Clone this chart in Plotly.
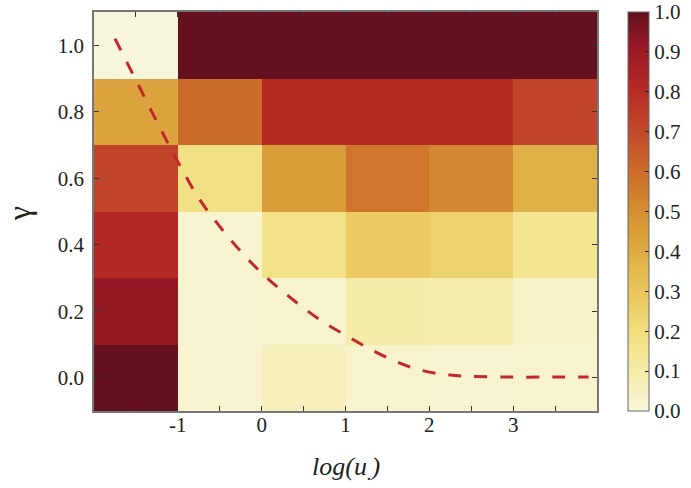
import plotly.graph_objects as go

# Heatmap grid (cell centres)
log_u = [-1.5, -0.5, 0.5, 1.5, 2.5, 3.5]
gamma = [0.0, 0.2, 0.4, 0.6, 0.8, 1.0]

# z values, one row per gamma (bottom to top)
row_g00 = [1.00, 0.02, 0.06, 0.03, 0.02, 0.03]
row_g02 = [0.92, 0.02, 0.03, 0.10, 0.09, 0.04]
row_g04 = [0.82, 0.02, 0.17, 0.28, 0.25, 0.15]
row_g06 = [0.72, 0.18, 0.45, 0.57, 0.52, 0.38]
row_g08 = [0.43, 0.60, 0.80, 0.80, 0.80, 0.72]
row_g10 = [0.00, 1.00, 1.00, 1.00, 1.00, 1.00]

# dashed curve
curve_x = [-1.75, -1.5, -1.25, -1.0, -0.75, -0.5, -0.25, 0.0, 0.25, 0.5, 0.75,
           1.0, 1.25, 1.5, 1.75, 2.0, 2.25, 2.5, 3.0, 3.5, 3.9]
curve_y = [1.02, 0.895, 0.77, 0.65, 0.54, 0.455, 0.38, 0.315, 0.26, 0.21, 0.165,
           0.128, 0.092, 0.06, 0.034, 0.017, 0.008, 0.004, 0.002, 0.002, 0.002]

x_tickvals = [-1.0, 0.0, 1.0, 2.0, 3.0]
x_ticktext = ["-1", "0", "1", "2", "3"]
x_minor_tickvals = [-1.5, -0.5, 0.5, 1.5, 2.5, 3.5]
y_tickvals = [0.0, 0.2, 0.4, 0.6, 0.8, 1.0]
y_ticktext = ["0.0", "0.2", "0.4", "0.6", "0.8", "1.0"]
cb_tickvals = [0.0, 0.1, 0.2, 0.3, 0.4, 0.5, 0.6, 0.7, 0.8, 0.9, 1.0]
cb_ticktext = ["0.0", "0.1", "0.2", "0.3", "0.4", "0.5", "0.6", "0.7", "0.8", "0.9", "1.0"]

x_title = "<i>log(u<sub>.</sub>)</i>"
y_title = "γ"

colorscale = [
    [0.0, "rgb(248,246,218)"],
    [0.1, "rgb(246,236,170)"],
    [0.2, "rgb(241,222,122)"],
    [0.3, "rgb(233,198,92)"],
    [0.4, "rgb(223,172,68)"],
    [0.5, "rgb(213,142,48)"],
    [0.6, "rgb(204,108,42)"],
    [0.7, "rgb(194,74,42)"],
    [0.8, "rgb(182,44,36)"],
    [0.9, "rgb(158,26,38)"],
    [1.0, "rgb(100,16,30)"],
]

FONT = "Liberation Serif"
TICKSIZE = 21

fig = go.Figure()
fig.add_trace(go.Heatmap(
    x=log_u, y=gamma,
    z=[row_g00, row_g02, row_g04, row_g06, row_g08, row_g10],
    zmin=0, zmax=1, colorscale=colorscale,
    colorbar=dict(
        x=1.0616, xanchor="left", xref="paper",
        y=0.5, yanchor="middle", len=1.0, lenmode="fraction",
        thickness=21, outlinewidth=1, outlinecolor="#666",
        tickvals=cb_tickvals, ticktext=cb_ticktext,
        ticks="inside", ticklen=4, tickcolor="#222",
        tickfont=dict(family=FONT, size=TICKSIZE, color="#222"),
        ypad=0, xpad=0,
    ),
    showscale=True,
))
fig.add_trace(go.Scatter(
    x=curve_x, y=curve_y, mode="lines",
    line=dict(color="rgb(196,38,46)", width=3, dash="13px,13px", shape="spline"),
    showlegend=False, hoverinfo="skip",
))

fig.update_layout(
    width=691, height=488,
    margin=dict(l=94, r=94, t=12, b=77, autoexpand=False),
    paper_bgcolor="white", plot_bgcolor="white",
    font=dict(family=FONT, size=TICKSIZE, color="#222"),
    showlegend=False,
    xaxis=dict(
        range=[-2, 4], tickvals=x_tickvals, ticktext=x_ticktext,
        ticks="inside", ticklen=5, tickcolor="#333", mirror="ticks",
        minor=dict(tickvals=x_minor_tickvals, ticks="inside", ticklen=5, tickcolor="#333", showgrid=False),
        showline=True, linecolor="#777", linewidth=1.5,
        showgrid=False, zeroline=False, ticklabelstandoff=-6, automargin=False,
        tickfont=dict(family=FONT, size=TICKSIZE, color="#222"),
    ),
    yaxis=dict(
        range=[-0.1, 1.1], tickvals=y_tickvals, ticktext=y_ticktext,
        ticks="inside", ticklen=5, tickcolor="#333", mirror="ticks",
        showline=True, linecolor="#777", linewidth=1.5,
        showgrid=False, zeroline=False, ticklabelstandoff=4, automargin=False,
        tickfont=dict(family=FONT, size=TICKSIZE, color="#222"),
    ),
    annotations=[
        dict(text=x_title, xref="paper", yref="paper", x=0.5, y=-0.143,
             xanchor="center", yanchor="middle", showarrow=False,
             font=dict(family=FONT, size=26, color="#222")),
        dict(text=y_title, xref="paper", yref="paper", x=-0.149, y=0.493,
             xanchor="center", yanchor="middle", showarrow=False, textangle=-90,
             font=dict(family=FONT, size=32, color="#222")),
    ],
)

fig.write_html("out.html")
